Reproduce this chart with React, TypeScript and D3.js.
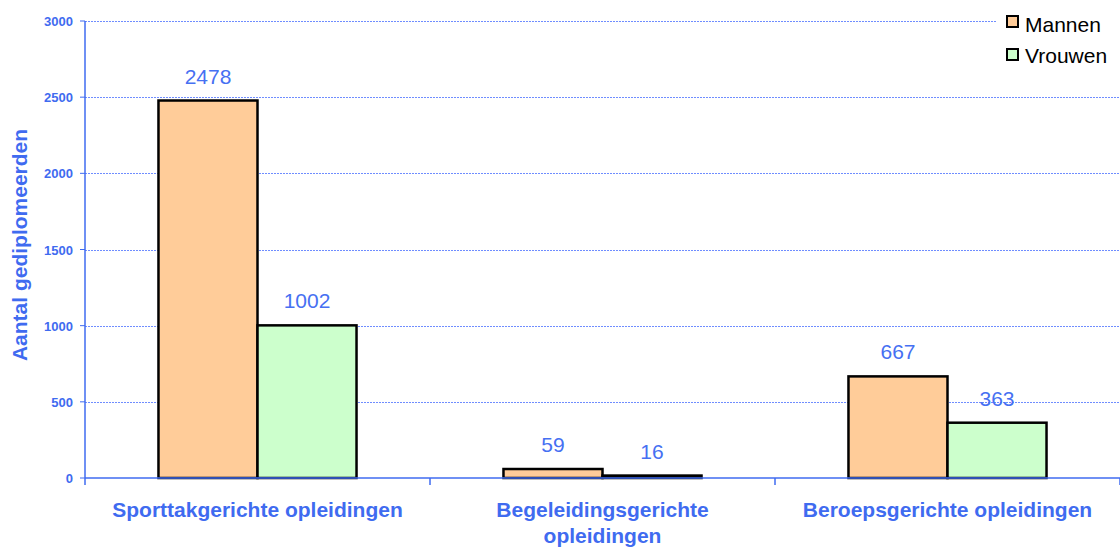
import React from "react";
import * as d3 from "d3";

const categories = ["Sporttakgerichte opleidingen", "Begeleidingsgerichte opleidingen", "Beroepsgerichte opleidingen"];
const categoryLines = [["Sporttakgerichte opleidingen"], ["Begeleidingsgerichte", "opleidingen"], ["Beroepsgerichte opleidingen"]];
const seriesNames = ["Mannen", "Vrouwen"];
const mannen = [2478, 59, 667];
const vrouwen = [1002, 16, 363];
const yTicks = [0, 500, 1000, 1500, 2000, 2500, 3000];

const colors = ["#FFCC99", "#CCFFCC"];
const blue = "#3F6BF0";
const W = 1120, H = 547;
const left = 85, right = 1120, top = 21, bottom = 478;

export default function App() {
  const x = d3.scaleBand<string>().domain(categories).range([left, right]).paddingInner(0).paddingOuter(0);
  const y = d3.scaleLinear().domain([0, 3000]).range([bottom, top]);
  const inner = d3.scaleBand<string>().domain(seriesNames).range([0, x.bandwidth()]).paddingOuter(0.742).paddingInner(0);
  const series = [mannen, vrouwen];
  return (
    <svg width={W} height={H} style={{ position: "absolute", left: 0, top: 0, fontFamily: "Arial, 'Liberation Sans', sans-serif" }}>
      <rect x={0} y={0} width={W} height={H} fill="#fff" />
      {yTicks.slice(1).map((t) => (
        <line key={"g" + t} x1={left} x2={right} y1={Math.round(y(t)) + 0.5} y2={Math.round(y(t)) + 0.5} stroke="#6f8dff" strokeWidth={1} strokeDasharray="2,1" />
      ))}
      {yTicks.map((t) => (
        <g key={"t" + t}>
          <line x1={left - 5} x2={left} y1={y(t)} y2={y(t)} stroke={blue} />
          <text x={73} y={y(t) + 5} textAnchor="end" fontSize={13} fontWeight="bold" fill={blue}>{t}</text>
        </g>
      ))}
      {categories.map((c, i) =>
        series.map((s, j) => {
          const bx = (x(c) as number) + (inner(seriesNames[j]) as number);
          const bw = inner.bandwidth();
          return (
            <g key={c + j}>
              <rect x={bx} y={y(s[i])} width={bw} height={bottom - y(s[i])} fill={colors[j]} stroke="#000" strokeWidth={2.5} />
              <text x={bx + bw / 2} y={y(s[i]) - 17} textAnchor="middle" fontSize={21} fill="#4670f2">{s[i]}</text>
            </g>
          );
        })
      )}
      <line x1={left} x2={left} y1={top} y2={bottom} stroke={blue} strokeWidth={1.5} />
      <line x1={left} x2={right} y1={bottom} y2={bottom} stroke={blue} strokeWidth={1.5} />
      {[...categories.map((c) => x(c) as number), right].map((v, i) => (
        <line key={"xt" + i} x1={v} x2={v} y1={bottom} y2={bottom + 7} stroke={blue} strokeWidth={1.5} />
      ))}
      {categories.map((c, i) => (
        <text key={"cl" + c} x={(x(c) as number) + x.bandwidth() / 2} y={517} textAnchor="middle" fontSize={21} fontWeight="bold" fill={blue}>
          {categoryLines[i].map((l, k) => (
            <tspan key={k} x={(x(c) as number) + x.bandwidth() / 2} dy={k === 0 ? 0 : 26}>{l}</tspan>
          ))}
        </text>
      ))}
      <text transform={`translate(27,245) rotate(-90)`} textAnchor="middle" fontSize={21} fontWeight="bold" fill={blue}>Aantal gediplomeerden</text>
      <rect x={996} y={4} width={124} height={72} fill="#fff" />
      {seriesNames.map((n, j) => (
        <g key={"lg" + n}>
          <rect x={1007} y={16 + j * 33} width={11} height={11} fill={colors[j]} stroke="#000" strokeWidth={2} />
          <text x={1025} y={32 + j * 31} fontSize={21} fill="#000">{n}</text>
        </g>
      ))}
    </svg>
  );
}
